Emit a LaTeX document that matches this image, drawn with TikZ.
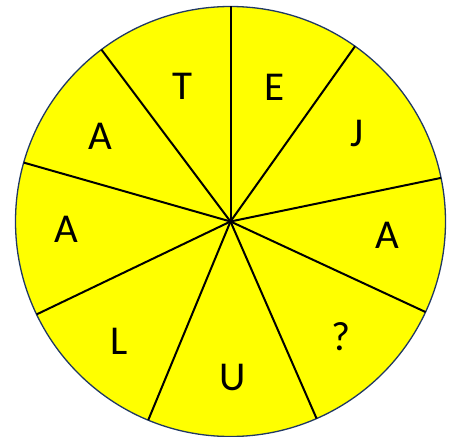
\documentclass[tikz,border=0pt]{standalone}
\usepackage{fontspec}
\setmainfont{Carlito}
\definecolor{wheelyellow}{HTML}{FFFF00}
\definecolor{rimblue}{HTML}{203864}
\tikzset{
  letter/.style={font=\fontsize{41}{41}\selectfont, inner sep=0pt},
  spoke/.style={black, line width=2pt}
}
\begin{document}
\begin{tikzpicture}[x=1pt, y=1pt]
    % Keep the page the size of the reference
    \useasboundingbox (-230.5,-214.5) rectangle (226.5,221.5);

    % The yellow wheel with its thin blue rim
    \coordinate (c) at (0,0);
    \draw[rimblue, line width=1.3pt, fill=wheelyellow] (c) circle (215);

    % Points where the spokes meet the rim
    \coordinate (p1) at (90:215);
    \coordinate (p2) at (54.6:215);
    \coordinate (p3) at (11.7:215);
    \coordinate (p4) at (-24.9:215);
    \coordinate (p5) at (-66.4:215);
    \coordinate (p6) at (-112.5:215);
    \coordinate (p7) at (-154.4:215);
    \coordinate (p8) at (164.1:215);
    \coordinate (p9) at (126.9:215);

    % Spokes from the centre out to the rim
    \draw[spoke] (c) -- (p1);
    \draw[spoke] (c) -- (p2);
    \draw[spoke] (c) -- (p3);
    \draw[spoke] (c) -- (p4);
    \draw[spoke] (c) -- (p5);
    \draw[spoke] (c) -- (p6);
    \draw[spoke] (c) -- (p7);
    \draw[spoke] (c) -- (p8);
    \draw[spoke] (c) -- (p9);

    % Letters, one in each sector, clockwise from the top
    \node[letter] (t) at (-47.8,134.8) {T};
    \node[letter] (e) at (44.5,134.5) {E};
    \node[letter] (j) at (126.5,88.5) {J};
    \node[letter] (aright) at (157.2,-13.5) {A};
    \node[letter] (q) at (110.2,-115.2) {?};
    \node[letter] (u) at (1.8,-155.8) {U};
    \node[letter] (l) at (-111.5,-120.2) {L};
    \node[letter] (aleft) at (-164.5,-7.8) {A};
    \node[letter] (aup) at (-130.5,84.8) {A};
\end{tikzpicture}
\end{document}
